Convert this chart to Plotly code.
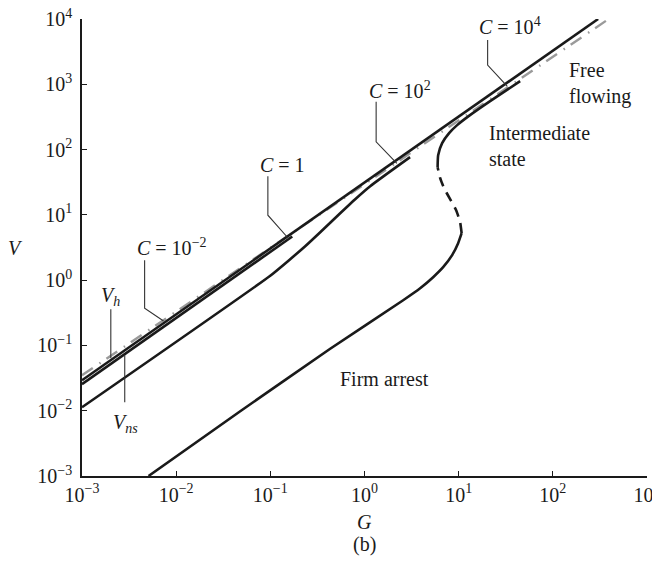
import plotly.graph_objects as go

# ---------------- data ----------------
# upper straight line
top_G = [0.001, 303]
top_V = [0.0293, 10000]
# second straight line (ends at C = 1 marker)
c1_G = [0.001, 0.171]
c1_V = [0.02547, 4.67]
# gray dash-dot line
h_G = [0.001, 405.5]
h_V = [0.0349, 10350]
# curve ending at C = 10^2 marker
c2_G = [0.001, 0.0998, 0.1626, 0.2347, 0.339, 0.552, 0.797, 1.150, 3.05]
c2_V = [0.0113, 1.17, 2.094, 3.31, 5.43, 10.6, 17.4, 27.5, 76.6]
# S-shaped curve (C = 10^4): lower stable branch, unstable branch, upper branch
low_G = [0.00509, 0.0479, 0.4325, 2.576, 3.902, 5.362, 6.846, 8.53, 9.88, 10.76]
low_V = [0.001, 0.00981, 0.0889, 0.493, 0.7523, 1.110, 1.579, 2.412, 3.684, 5.24]
mid_G = [10.76, 10.37, 9.41, 8.12, 7.01, 6.37, 5.98]
mid_V = [5.24, 7.73, 11.8, 17.4, 25.6, 36.5, 53.8]
up_G = [5.98, 6.06, 6.68, 7.92, 9.64, 13.2, 21.6, 45.0]
up_V = [53.8, 82.2, 125.6, 178.8, 237, 337, 553, 1119]

# tick labels
x_tickvals = [1e-3, 1e-2, 1e-1, 1e0, 1e1, 1e2, 1e3]
x_ticktext = ["10<sup>−3</sup>", "10<sup>−2</sup>", "10<sup>−1</sup>", "10<sup>0</sup>",
              "10<sup>1</sup>", "10<sup>2</sup>", "10<sup>3</sup>"]
y_tickvals = [1e-3, 1e-2, 1e-1, 1e0, 1e1, 1e2, 1e3, 1e4]
y_ticktext = ["10<sup>−3</sup>", "10<sup>−2</sup>", "10<sup>−1</sup>", "10<sup>0</sup>",
              "10<sup>1</sup>", "10<sup>2</sup>", "10<sup>3</sup>", "10<sup>4</sup>"]

# callout leader lines (G, V)
callouts = [
    ([0.004624, 0.004624, 0.007345], [2.023, 0.3715, 0.2371]),
    ([0.09419, 0.09419, 0.156], [39.17, 9.886, 4.345]),
    ([1.330, 1.330, 2.208], [539.5, 131.5, 61.4]),
    ([20.32, 20.32, 32.73], [4753, 1968, 937.6]),
    ([0.002023, 0.002023], [0.359, 0.0637]),
    ([0.002844, 0.002844], [0.0708, 0.01349]),
]
# label texts with positions in log10 units
labels = [
    ("<i>C</i> = 10<sup>−2</sup>", -2.046, 0.502, "center"),
    ("<i>C</i> = 1", -0.874, 1.762, "center"),
    ("<i>C</i> = 10<sup>2</sup>", 0.379, 2.911, "center"),
    ("<i>C</i> = 10<sup>4</sup>", 1.547, 3.892, "center"),
    ("<i>V<sub>h</sub></i>", -2.70, -0.25, "center"),
    ("<i>V<sub>ns</sub></i>", -2.54, -2.19, "center"),
    ("Free<br>flowing", 2.149, 3.018, "left"),
    ("Intermediate<br>state", 1.299, 2.054, "left"),
    ("Firm arrest", -0.276, -1.507, "left"),
]

FONT = "Liberation Serif"
INK = "#1a1a1a"
FS = 20
fig = go.Figure()

def line(G, V, color=INK, width=2.6, dash="solid"):
    fig.add_trace(go.Scatter(x=G, y=V, mode="lines", showlegend=False, hoverinfo="skip",
                             line=dict(color=color, width=width, dash=dash, shape="spline", smoothing=0.5)))

line(h_G, h_V, color="#9a9a9a", width=2.4, dash="13px,8px,1.5px,7px")
line(top_G, top_V)
line(c1_G, c1_V)
line(c2_G, c2_V)
line(low_G, low_V)
line(mid_G, mid_V, dash="10px,7px")
line(up_G, up_V)

for G, V in callouts:
    fig.add_trace(go.Scatter(x=G, y=V, mode="lines", showlegend=False, hoverinfo="skip",
                             line=dict(color="#333333", width=1.1)))

for txt, lx, ly, al in labels:
    fig.add_annotation(x=lx, y=ly, xref="x", yref="y", text=txt, showarrow=False,
                       xanchor="left" if al == "left" else "center", yanchor="middle",
                       align=al, font=dict(family=FONT, size=FS, color=INK))

fig.add_annotation(x=-0.117, y=0.5, xref="paper", yref="paper", text="<i>V</i>", showarrow=False,
                   xanchor="center", yanchor="middle", font=dict(family=FONT, size=FS, color=INK))
fig.add_annotation(x=0.500, y=-0.100, xref="paper", yref="paper", text="<i>G</i>", showarrow=False,
                   xanchor="center", yanchor="middle", font=dict(family=FONT, size=FS, color=INK))
fig.add_annotation(x=0.500, y=-0.150, xref="paper", yref="paper", text="(b)", showarrow=False,
                   xanchor="center", yanchor="middle", font=dict(family=FONT, size=FS, color=INK))

axis_common = dict(type="log", showgrid=False, zeroline=False, showline=True, linecolor=INK,
                   linewidth=1.6, ticks="inside", ticklen=5, tickwidth=1.4, tickcolor=INK,
                   tickfont=dict(family=FONT, size=FS, color=INK), mirror=False, automargin=False,
                   ticklabeloverflow="allow")
fig.update_xaxes(range=[-3, 3.0005], tickvals=x_tickvals, ticktext=x_ticktext, **axis_common)
fig.update_yaxes(range=[-3, 4.0005], tickvals=y_tickvals, ticktext=y_ticktext,
                 ticklabelstandoff=4, **axis_common)

fig.update_layout(width=652, height=558, margin=dict(l=74, r=13, t=11, b=90),
                  plot_bgcolor="white", paper_bgcolor="white", showlegend=False)

fig.write_html("out.html")
